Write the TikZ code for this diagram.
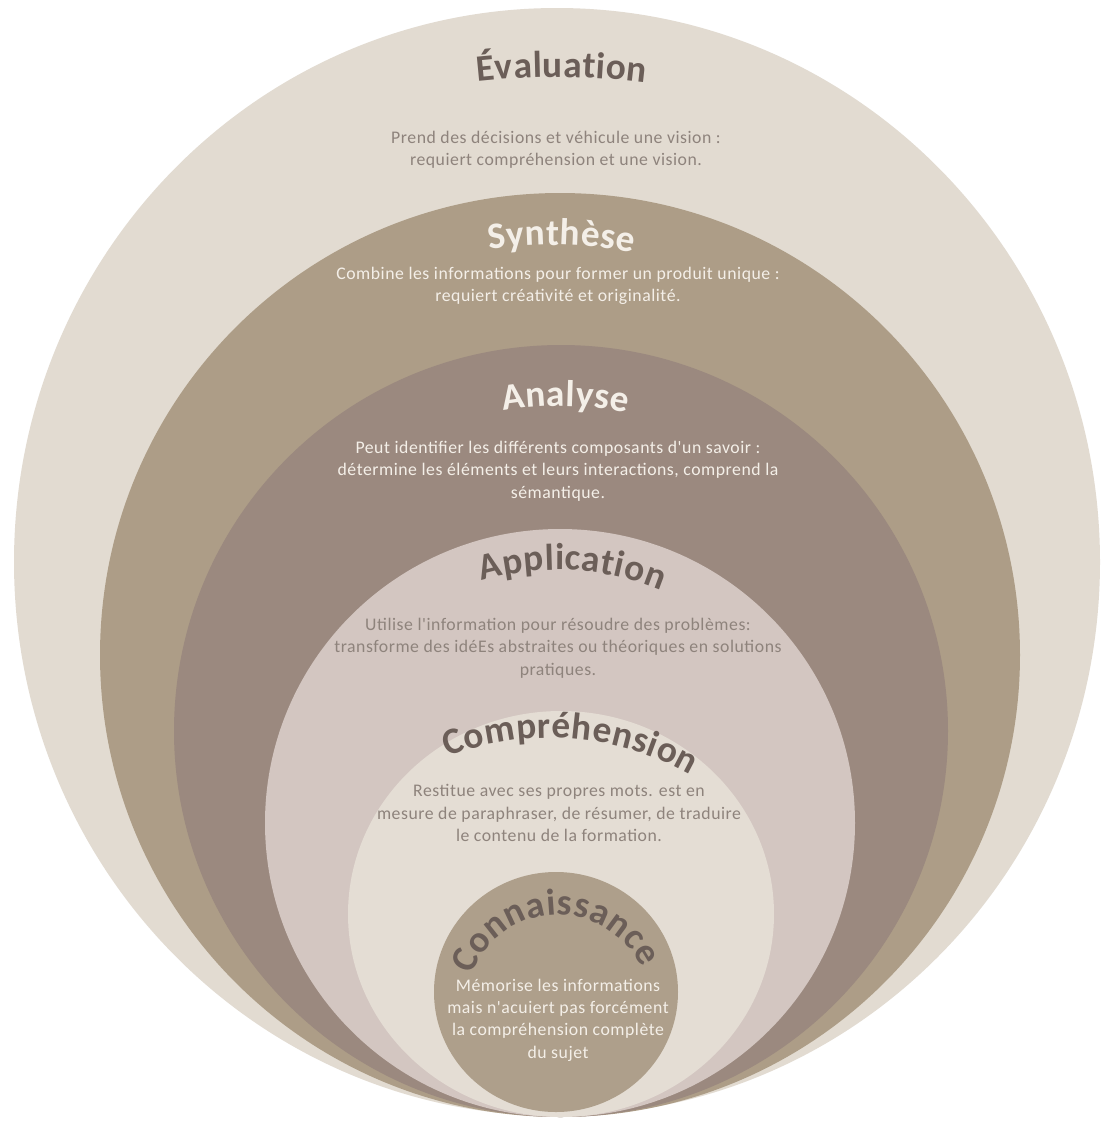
\documentclass[tikz,border=0pt]{standalone}
\usepackage{fontspec}
\setmainfont{Carlito}
\newfontfamily\descfam[LetterSpace=3]{Carlito}
\usepackage{xcolor}
\usetikzlibrary{decorations.text}
\definecolor{evalc}{HTML}{E2DBD1}
\definecolor{synthc}{HTML}{AD9D87}
\definecolor{analc}{HTML}{9B897F}
\definecolor{applc}{HTML}{D3C6C1}
\definecolor{comprc}{HTML}{E4DDD4}
\definecolor{connc}{HTML}{AE9F8B}
\definecolor{fonce}{HTML}{6B5E58}
\definecolor{gristxt}{HTML}{8E837C}
\definecolor{clair}{HTML}{F4EFE8}
\newcommand{\titrefont}{\fontsize{28}{30}\selectfont\bfseries\kern0.4pt}
\tikzset{
  titre/.style={decorate, decoration={text along path, text align=center, text={#1}}},
  desc/.style={align=center, inner sep=0pt, font=\descfam\fontsize{13.3}{16.8}\selectfont}
}

\begin{document}
\begin{tikzpicture}[x=0.75pt, y=0.75pt]
\useasboundingbox (0,0) rectangle (1104,-1122);
\fill[white] (0,0) rectangle (1104,-1122);
% nested circles
\fill[evalc] (557,-562) ellipse [x radius=543, y radius=554];
\fill[synthc] (560,-655) ellipse [x radius=460, y radius=462];
\fill[analc] (561,-731) ellipse [x radius=387, y radius=386];
\fill[applc] (560,-823) ellipse [x radius=295, y radius=294];
\fill[comprc] (561,-914) ellipse [x radius=213, y radius=203];
\fill[connc] (556,-992) ellipse [x radius=122, y radius=120];
% titles
\path[titre={|\titrefont\color{fonce}|Évaluation}] ([shift={(100:723)}]555,-800) arc[start angle=100, end angle=79, radius=723];
\path[titre={|\titrefont\color{clair}|Synthèse}] ([shift={(105:410)}]552,-655) arc[start angle=105, end angle=72.4, radius=410];
\path[titre={|\titrefont\color{clair}|Analyse}] ([shift={(110:325)}]560,-731) arc[start angle=110, end angle=68.2, radius=325];
\path[titre={|\titrefont\color{fonce}|Application}] ([shift={(130:268)}]558,-838) arc[start angle=130, end angle=44, radius=268];
\path[titre={|\titrefont\color{fonce}|Compréhension}] ([shift={(125:285)}]550,-1023) arc[start angle=125, end angle=46.6, radius=285];
\path[titre={|\titrefont\color{fonce}|Connaissance}] ([shift={(190:92)}]558,-1007) arc[start angle=190, end angle=-5, radius=92];
% texts
\node[desc, text=gristxt] (eval-txt) at (556,-150) {Prend des décisions et véhicule une vision :\\ requiert compréhension et une vision.};
\node[desc, text=clair] (synth-txt) at (558,-286) {Combine les informations pour former un produit unique :\\ requiert créativité et originalité.};
\node[desc, text=clair] (anal-txt) at (558,-471) {Peut identifier les différents composants d'un savoir :\\ détermine les éléments et leurs interactions, comprend la\\ sémantique.};
\node[desc, text=gristxt] (appl-txt) at (558,-648) {Utilise l'information pour résoudre des problèmes:\\ transforme des idéEs abstraites ou théoriques en solutions\\ pratiques.};
\node[desc, text=gristxt] (compr-txt) at (559,-813) {Restitue avec ses propres mots. est en\\ mesure de paraphraser, de résumer, de traduire\\ le contenu de la formation.};
\node[desc, text=clair] (conn-txt) at (558,-1020) {Mémorise les informations\\ mais n'acuiert pas forcément\\ la compréhension complète\\ du sujet};
\end{tikzpicture}
\end{document}
